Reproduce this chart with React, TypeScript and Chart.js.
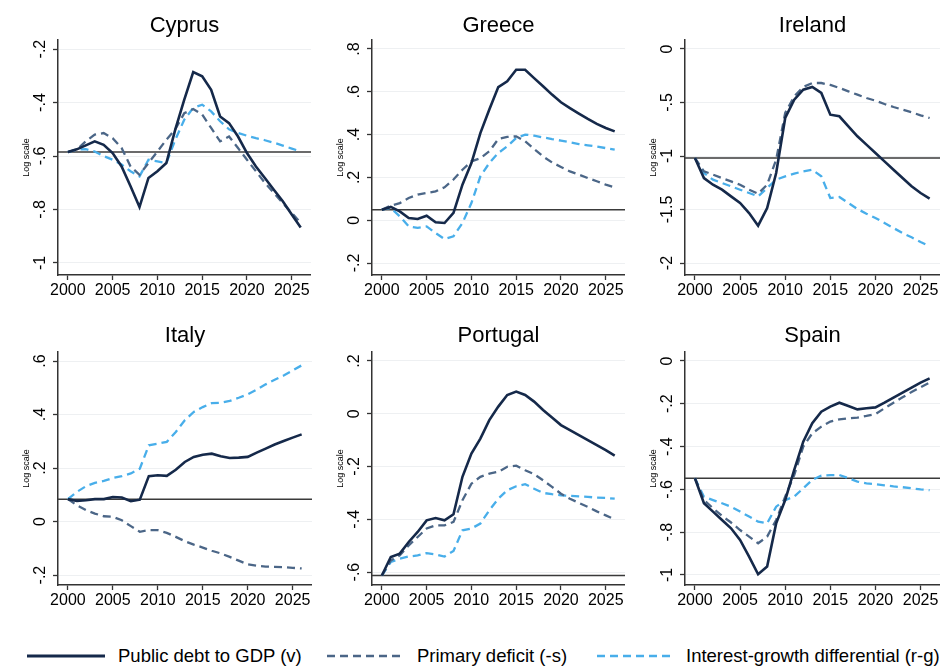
import React, { useEffect, useRef } from "react";
import { Chart, registerables } from "chart.js";
Chart.register(...registerables);

// ---------- DATA ----------
const years = [2000, 2001, 2002, 2003, 2004, 2005, 2006, 2007, 2008, 2009, 2010, 2011, 2012, 2013, 2014, 2015, 2016, 2017, 2018, 2019, 2020, 2021, 2022, 2023, 2024, 2025, 2026];
const xTicks = [2000, 2005, 2010, 2015, 2020, 2025];
const seriesNames = ["Public debt to GDP (v)", "Primary deficit (-s)", "Interest-growth differential (r-g)"];
const yAxisTitle = "Log scale";

const cyprusDebt = [-0.585, -0.575, -0.56, -0.545, -0.558, -0.589, -0.639, -0.713, -0.791, -0.682, -0.657, -0.626, -0.5, -0.389, -0.286, -0.302, -0.352, -0.452, -0.477, -0.527, -0.589, -0.639, -0.682, -0.726, -0.769, -0.819, -0.867];
const cyprusPrimary = [-0.585, -0.576, -0.545, -0.52, -0.514, -0.533, -0.57, -0.639, -0.67, -0.626, -0.583, -0.539, -0.5, -0.44, -0.424, -0.445, -0.495, -0.545, -0.527, -0.57, -0.614, -0.657, -0.7, -0.738, -0.776, -0.813, -0.85];
const cyprusRg = [-0.585, -0.576, -0.574, -0.583, -0.6, -0.614, -0.632, -0.657, -0.676, -0.614, -0.62, -0.626, -0.539, -0.464, -0.42, -0.408, -0.433, -0.47, -0.5, -0.514, -0.524, -0.533, -0.541, -0.55, -0.561, -0.572, -0.583];
const cyprusRef = -0.585;
const cyprusYTicks = [-1, -0.8, -0.6, -0.4, -0.2];

const greeceDebt = [0.049, 0.062, 0.041, 0.01, 0.006, 0.021, -0.01, -0.013, 0.034, 0.166, 0.267, 0.407, 0.517, 0.622, 0.649, 0.703, 0.703, 0.664, 0.626, 0.587, 0.551, 0.524, 0.498, 0.473, 0.45, 0.431, 0.415];
const greecePrimary = [0.049, 0.068, 0.08, 0.104, 0.12, 0.127, 0.135, 0.154, 0.19, 0.236, 0.275, 0.29, 0.322, 0.379, 0.389, 0.392, 0.369, 0.333, 0.298, 0.27, 0.249, 0.228, 0.213, 0.197, 0.182, 0.166, 0.154];
const greeceRg = [0.049, 0.057, 0.018, -0.029, -0.036, -0.029, -0.06, -0.088, -0.075, -0.013, 0.08, 0.205, 0.267, 0.314, 0.345, 0.384, 0.4, 0.395, 0.387, 0.379, 0.372, 0.364, 0.356, 0.35, 0.344, 0.337, 0.33];
const greeceRef = 0.049;
const greeceYTicks = [-0.2, 0, 0.2, 0.4, 0.6, 0.8];

const irelandDebt = [-1.019, -1.206, -1.268, -1.315, -1.377, -1.439, -1.533, -1.651, -1.486, -1.159, -0.645, -0.474, -0.38, -0.355, -0.411, -0.614, -0.629, -0.723, -0.816, -0.894, -0.972, -1.05, -1.128, -1.206, -1.283, -1.346, -1.399];
const irelandPrimary = [-1.019, -1.143, -1.174, -1.206, -1.237, -1.268, -1.315, -1.352, -1.268, -1.034, -0.598, -0.442, -0.355, -0.318, -0.318, -0.336, -0.364, -0.396, -0.427, -0.458, -0.483, -0.514, -0.542, -0.567, -0.592, -0.62, -0.645];
const irelandRg = [-1.019, -1.159, -1.221, -1.252, -1.283, -1.315, -1.346, -1.377, -1.299, -1.221, -1.19, -1.165, -1.143, -1.128, -1.19, -1.393, -1.383, -1.439, -1.495, -1.539, -1.579, -1.626, -1.673, -1.72, -1.76, -1.804, -1.844];
const irelandRef = -1.019;
const irelandYTicks = [-2, -1.5, -1, -0.5, 0];

const italyDebt = [0.084, 0.077, 0.08, 0.084, 0.084, 0.092, 0.09, 0.076, 0.082, 0.17, 0.173, 0.171, 0.194, 0.223, 0.242, 0.25, 0.254, 0.244, 0.238, 0.239, 0.242, 0.258, 0.273, 0.288, 0.301, 0.314, 0.326];
const italyPrimary = [0.084, 0.061, 0.043, 0.03, 0.02, 0.018, 0.005, -0.017, -0.038, -0.032, -0.032, -0.042, -0.057, -0.073, -0.086, -0.097, -0.109, -0.119, -0.132, -0.146, -0.16, -0.165, -0.168, -0.169, -0.17, -0.173, -0.175];
const italyRg = [0.084, 0.111, 0.132, 0.145, 0.152, 0.163, 0.17, 0.18, 0.198, 0.285, 0.291, 0.298, 0.335, 0.379, 0.41, 0.428, 0.443, 0.444, 0.451, 0.463, 0.476, 0.493, 0.513, 0.53, 0.546, 0.565, 0.584];
const italyRef = 0.084;
const italyYTicks = [-0.2, 0, 0.2, 0.4, 0.6];

const portugalDebt = [-0.613, -0.543, -0.53, -0.486, -0.448, -0.404, -0.395, -0.404, -0.381, -0.239, -0.151, -0.094, -0.024, 0.027, 0.071, 0.084, 0.071, 0.046, 0.014, -0.014, -0.043, -0.062, -0.081, -0.1, -0.119, -0.138, -0.159];
const portugalPrimary = [-0.613, -0.556, -0.537, -0.499, -0.467, -0.435, -0.423, -0.423, -0.41, -0.328, -0.265, -0.239, -0.227, -0.22, -0.201, -0.197, -0.214, -0.229, -0.252, -0.277, -0.303, -0.322, -0.338, -0.353, -0.37, -0.385, -0.4];
const portugalRg = [-0.613, -0.562, -0.549, -0.541, -0.537, -0.528, -0.533, -0.541, -0.52, -0.442, -0.435, -0.416, -0.366, -0.322, -0.29, -0.275, -0.267, -0.284, -0.3, -0.305, -0.309, -0.311, -0.313, -0.315, -0.318, -0.319, -0.322];
const portugalRef = -0.613;
const portugalYTicks = [-0.6, -0.4, -0.2, 0, 0.2];

const spainDebt = [-0.548, -0.665, -0.704, -0.743, -0.782, -0.836, -0.914, -0.997, -0.961, -0.759, -0.65, -0.509, -0.377, -0.291, -0.237, -0.213, -0.195, -0.21, -0.226, -0.221, -0.217, -0.195, -0.171, -0.148, -0.125, -0.101, -0.081];
const spainPrimary = [-0.548, -0.65, -0.688, -0.724, -0.755, -0.79, -0.821, -0.852, -0.821, -0.743, -0.634, -0.533, -0.4, -0.338, -0.307, -0.283, -0.273, -0.268, -0.265, -0.257, -0.248, -0.221, -0.195, -0.17, -0.145, -0.123, -0.101];
const spainRg = [-0.548, -0.634, -0.65, -0.665, -0.681, -0.704, -0.727, -0.751, -0.759, -0.681, -0.65, -0.634, -0.595, -0.556, -0.536, -0.533, -0.533, -0.548, -0.564, -0.572, -0.576, -0.581, -0.586, -0.59, -0.595, -0.6, -0.604];
const spainRef = -0.548;
const spainYTicks = [-1, -0.8, -0.6, -0.4, -0.2, 0];

// ---------- STYLE / LAYOUT ----------
const FONT = '"Liberation Sans", Arial, Helvetica, sans-serif';
const C_DEBT = "#15294a";
const C_PRIM = "#4b6687";
const C_RG = "#48aeea";
const C_AXIS = "#333333";
const X_MIN = 1998.9;
const X_MAX = 2027.15;

type Panel = {
  title: string;
  debt: number[];
  primary: number[];
  rg: number[];
  ref: number;
  yTicks: number[];
  yMin: number;
  yMax: number;
  left: number;
  top: number;
  width: number;
  padTop: number;
};

const panels: Panel[] = [
  { title: "Cyprus", debt: cyprusDebt, primary: cyprusPrimary, rg: cyprusRg, ref: cyprusRef, yTicks: cyprusYTicks, yMin: -1.045, yMax: -0.166, left: 0, top: 0, width: 311, padTop: 40 },
  { title: "Greece", debt: greeceDebt, primary: greecePrimary, rg: greeceRg, ref: greeceRef, yTicks: greeceYTicks, yMin: -0.256, yMax: 0.842, left: 314, top: 0, width: 311, padTop: 40 },
  { title: "Ireland", debt: irelandDebt, primary: irelandPrimary, rg: irelandRg, ref: irelandRef, yTicks: irelandYTicks, yMin: -2.112, yMax: 0.084, left: 627, top: 0, width: 313, padTop: 40 },
  { title: "Italy", debt: italyDebt, primary: italyPrimary, rg: italyRg, ref: italyRef, yTicks: italyYTicks, yMin: -0.237, yMax: 0.634, left: 0, top: 310, width: 312, padTop: 42 },
  { title: "Portugal", debt: portugalDebt, primary: portugalPrimary, rg: portugalRg, ref: portugalRef, yTicks: portugalYTicks, yMin: -0.649, yMax: 0.234, left: 314, top: 310, width: 311, padTop: 42 },
  { title: "Spain", debt: spainDebt, primary: spainPrimary, rg: spainRg, ref: spainRef, yTicks: spainYTicks, yMin: -1.047, yMax: 0.042, left: 627, top: 310, width: 313, padTop: 42 },
];

const CANVAS_H = 300;

function fmtTick(v: number): string {
  const r = Math.round(v * 10) / 10;
  let s = String(r);
  s = s.replace(/^(-?)0\./, "$1.");
  return s;
}

const decorPlugin = {
  id: "panelDecor",
  afterDraw(chart: any, _args: any, opts: any) {
    const ctx = chart.ctx as CanvasRenderingContext2D;
    const area = chart.chartArea;
    const ys = chart.scales.y;
    ctx.save();
    ctx.fillStyle = "#000";
    // title
    ctx.font = `22px ${FONT}`;
    ctx.textAlign = "center";
    ctx.textBaseline = "alphabetic";
    ctx.fillText(opts.title, (area.left + area.right) / 2, 32);
    // y tick labels (rotated)
    ctx.font = `16px ${FONT}`;
    ctx.textBaseline = "middle";
    ys.ticks.forEach((t: any) => {
      const py = ys.getPixelForValue(t.value);
      ctx.save();
      ctx.translate(area.left - 17, py);
      ctx.rotate(-Math.PI / 2);
      ctx.fillText(fmtTick(t.value), 0, 0);
      ctx.restore();
    });
    // y-axis title
    ctx.font = `9px ${FONT}`;
    ctx.save();
    ctx.translate(area.left - 31, (area.top + area.bottom) / 2);
    ctx.rotate(-Math.PI / 2);
    ctx.fillText(yAxisTitle, 0, 0);
    ctx.restore();
    ctx.restore();
  },
};

function PanelChart({ p }: { p: Panel }) {
  const ref = useRef<HTMLCanvasElement | null>(null);
  useEffect(() => {
    if (!ref.current) return;
    const pts = (vals: number[]) => years.map((yr, i) => ({ x: yr, y: vals[i] }));
    const chart = new Chart(ref.current, {
      type: "line",
      data: {
        datasets: [
          { label: seriesNames[0], data: pts(p.debt), borderColor: C_DEBT, borderWidth: 2.6, pointRadius: 0, tension: 0, fill: false },
          { label: seriesNames[1], data: pts(p.primary), borderColor: C_PRIM, borderWidth: 2.3, borderDash: [8, 5], pointRadius: 0, tension: 0, fill: false },
          { label: seriesNames[2], data: pts(p.rg), borderColor: C_RG, borderWidth: 2.3, borderDash: [8, 5], pointRadius: 0, tension: 0, fill: false },
          { label: "ref", data: [{ x: X_MIN, y: p.ref }, { x: X_MAX, y: p.ref }], borderColor: "#3a3a3a", borderWidth: 1.5, pointRadius: 0, tension: 0, fill: false },
        ],
      },
      options: {
        animation: false,
        responsive: false,
        devicePixelRatio: 1,
        layout: { padding: { top: p.padTop, left: 0, right: 0, bottom: 0 } },
        plugins: {
          legend: { display: false },
          title: { display: false },
          tooltip: { enabled: false },
          panelDecor: { title: p.title },
        } as any,
        scales: {
          x: {
            type: "linear",
            min: X_MIN,
            max: X_MAX,
            afterBuildTicks: (s: any) => {
              s.ticks = xTicks.map((v) => ({ value: v }));
            },
            afterFit: (s: any) => {
              s.height = 25;
            },
            grid: { drawOnChartArea: false, drawTicks: true, tickLength: 5, tickColor: C_AXIS, tickWidth: 1.3 },
            border: { display: true, color: C_AXIS, width: 1.5 },
            ticks: {
              font: { size: 16, family: FONT },
              color: "#000",
              padding: 1,
              maxRotation: 0,
              minRotation: 0,
              autoSkip: false,
              callback: (v: any) => String(v),
            },
          },
          y: {
            type: "linear",
            min: p.yMin,
            max: p.yMax,
            afterBuildTicks: (s: any) => {
              s.ticks = p.yTicks.map((v) => ({ value: v }));
            },
            afterFit: (s: any) => {
              s.width = 58;
            },
            grid: { color: "#eef0f2", lineWidth: 1, drawTicks: true, tickLength: 5, tickColor: C_AXIS, tickWidth: 1.3 },
            border: { display: true, color: C_AXIS, width: 1.5 },
            ticks: { display: false },
          },
        },
      } as any,
      plugins: [decorPlugin as any],
    });
    return () => chart.destroy();
  }, [p]);
  return (
    <canvas
      ref={ref}
      width={p.width}
      height={CANVAS_H}
      style={{ position: "absolute", left: p.left, top: p.top, width: p.width, height: CANVAS_H, display: "block" }}
    />
  );
}

function LegendLine({ x1, x2, color, dash, width }: { x1: number; x2: number; color: string; dash?: string; width: number }) {
  return (
    <svg style={{ position: "absolute", left: x1, top: 650, overflow: "visible" }} width={x2 - x1} height={12}>
      <line x1={0} y1={6} x2={x2 - x1} y2={6} stroke={color} strokeWidth={width} strokeDasharray={dash} />
    </svg>
  );
}

const legendTextStyle: React.CSSProperties = {
  position: "absolute",
  top: 645,
  fontFamily: FONT,
  fontSize: 18.5,
  lineHeight: "22px",
  color: "#000",
  whiteSpace: "nowrap",
};

export default function App() {
  return (
    <div style={{ position: "fixed", left: 0, top: 0, width: 944, height: 668, background: "#fff", overflow: "hidden" }}>
      {panels.map((p) => (
        <PanelChart key={p.title} p={p} />
      ))}
      <LegendLine x1={27} x2={105} color={C_DEBT} width={2.8} />
      <div style={{ ...legendTextStyle, left: 118 }}>{seriesNames[0]}</div>
      <LegendLine x1={327} x2={402} color={C_PRIM} width={2.6} dash="8 5" />
      <div style={{ ...legendTextStyle, left: 417 }}>{seriesNames[1]}</div>
      <LegendLine x1={597} x2={670} color={C_RG} width={2.6} dash="8 5" />
      <div style={{ ...legendTextStyle, left: 686 }}>{seriesNames[2]}</div>
    </div>
  );
}
